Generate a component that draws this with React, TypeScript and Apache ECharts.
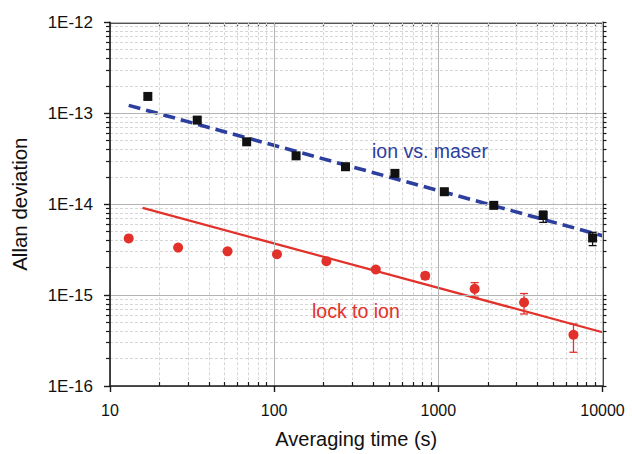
import React, { useEffect, useRef } from "react";
import * as echarts from "echarts";

// ---- data ----
const maserTau = [17, 34, 68, 136, 272, 544, 1088, 2176, 4352, 8704];
const maserSigma = [1.53e-13, 8.4e-14, 4.85e-14, 3.4e-14, 2.58e-14, 2.18e-14, 1.37e-14, 9.7e-15, 7.5e-15, 4.25e-15];
// error bars: [tau, low, high]
const maserErr = [
  [2176, 9.2e-15, 1.02e-14],
  [4352, 6.3e-15, 8.4e-15],
  [8704, 3.5e-15, 4.9e-15],
];

const ionTau = [13, 26, 52, 104, 208, 416, 832, 1664, 3328, 6656];
const ionSigma = [4.2e-15, 3.33e-15, 3.03e-15, 2.81e-15, 2.36e-15, 1.91e-15, 1.63e-15, 1.17e-15, 8.3e-16, 3.66e-16];
const ionErr = [
  [832, 1.5e-15, 1.77e-15],
  [1664, 9.5e-16, 1.37e-15],
  [3328, 6.2e-16, 1.04e-15],
  [6656, 2.35e-16, 4.8e-16],
];

// fit lines: [tau, sigma] endpoints
const maserFit = [
  [13, 1.22e-13],
  [10000, 4.5e-15],
];
const ionFit = [
  [15.8, 9.1e-15],
  [10000, 3.9e-16],
];

const xDecades = [1, 2, 3, 4]; // log10 of 10, 100, 1000, 10000
const yDecades = [-16, -15, -14, -13, -12];
const minorMultipliers = [2, 3, 4, 5, 6, 7, 8, 9];

const xTitle = "Averaging time (s)";
const yTitle = "Allan deviation";
const maserLabel = "ion vs. maser";
const ionLabel = "lock to ion";

const BLUE = "#2c3f9f";
const RED = "#e2312a";
const FONT = "'Liberation Sans', Arial, Helvetica, sans-serif";

const lg = (v: number) => Math.log10(v);

function minorTicks(decades: number[]) {
  const out: number[] = [];
  for (let i = 0; i < decades.length - 1; i++) {
    for (const m of minorMultipliers) out.push(decades[i] + Math.log10(m));
  }
  return out;
}

export default function App() {
  const ref = useRef<HTMLDivElement>(null);

  useEffect(() => {
    if (!ref.current) return;
    const chart = echarts.init(ref.current, null, { renderer: "svg" });

    const xMinor = minorTicks(xDecades);
    const yMinor = minorTicks(yDecades);
    const axisColor = "#1a1a1a";

    const errRender = (color: string) => (params: any, api: any) => {
      const x = api.value(0);
      const lo = api.coord([x, api.value(1)]);
      const hi = api.coord([x, api.value(2)]);
      const w = 4;
      const style = { stroke: color, lineWidth: 1.3 };
      return {
        type: "group",
        children: [
          { type: "line", shape: { x1: lo[0], y1: lo[1], x2: hi[0], y2: hi[1] }, style },
          { type: "line", shape: { x1: lo[0] - w, y1: lo[1], x2: lo[0] + w, y2: lo[1] }, style },
          { type: "line", shape: { x1: hi[0] - w, y1: hi[1], x2: hi[0] + w, y2: hi[1] }, style },
        ],
      };
    };

    const xBase = { type: "value", min: 1, max: 4, interval: 1, gridIndex: 0 };
    const yBase = { type: "value", min: -16, max: -12, interval: 1, gridIndex: 0 };

    const option: any = {
      animation: false,
      backgroundColor: "#ffffff",
      grid: { left: 110, right: 29.5, top: 22.3, bottom: 65.7, containLabel: false },
      xAxis: [
        {
          ...xBase,
          position: "bottom",
          name: xTitle,
          nameLocation: "middle",
          nameGap: 43,
          nameTextStyle: { fontFamily: FONT, fontSize: 20, color: "#111" },
          axisLine: { show: true, lineStyle: { color: axisColor, width: 1.6 } },
          axisTick: { show: true, inside: false, length: 6, lineStyle: { color: axisColor, width: 1.4 } },
          axisLabel: {
            fontFamily: FONT,
            fontSize: 16,
            color: "#111",
            margin: 16,
            formatter: (v: number) => String(Math.round(Math.pow(10, v))),
          },
          splitLine: { show: true, lineStyle: { color: "#b4b4b4", width: 1 } },
          z: 5,
        },
        {
          ...xBase,
          position: "bottom",
          axisLine: { show: false },
          axisLabel: { show: false },
          axisTick: { show: true, inside: true, length: 4, customValues: xMinor, lineStyle: { color: axisColor, width: 1.2 } },
          splitLine: { show: true, lineStyle: { color: "#d6d6d6", width: 1, type: [3, 2] } },
          z: 1,
        },
        {
          ...xBase,
          position: "top",
          axisLine: { show: true, lineStyle: { color: axisColor, width: 1.6 } },
          axisLabel: { show: false },
          axisTick: { show: true, inside: true, length: 4, customValues: [...xDecades, ...xMinor], lineStyle: { color: axisColor, width: 1.2 } },
          splitLine: { show: false },
        },
      ],
      yAxis: [
        {
          ...yBase,
          position: "left",
          name: yTitle,
          nameLocation: "middle",
          nameGap: 80,
          nameRotate: 90,
          nameTextStyle: { fontFamily: FONT, fontSize: 20.5, color: "#111" },
          axisLine: { show: true, lineStyle: { color: axisColor, width: 1.6 } },
          axisTick: { show: true, inside: false, length: 6, lineStyle: { color: axisColor, width: 1.4 } },
          axisLabel: {
            fontFamily: FONT,
            fontSize: 17,
            color: "#111",
            margin: 17,
            formatter: (v: number) => "1E" + Math.round(v),
          },
          splitLine: { show: true, lineStyle: { color: "#b4b4b4", width: 1 } },
          z: 5,
        },
        {
          ...yBase,
          position: "left",
          axisLine: { show: false },
          axisLabel: { show: false },
          axisTick: { show: true, inside: false, length: 4, customValues: yMinor, lineStyle: { color: axisColor, width: 1.2 } },
          splitLine: { show: true, lineStyle: { color: "#d6d6d6", width: 1, type: [3, 2] } },
          z: 1,
        },
        {
          ...yBase,
          position: "right",
          axisLine: { show: true, lineStyle: { color: axisColor, width: 1.6 } },
          axisLabel: { show: false },
          axisTick: { show: true, inside: false, length: 4, customValues: [...yDecades, ...yMinor], lineStyle: { color: axisColor, width: 1.2 } },
          splitLine: { show: false },
        },
      ],
      series: [
        {
          type: "line",
          name: "maser fit",
          xAxisIndex: 0,
          yAxisIndex: 0,
          data: maserFit.map((p) => [lg(p[0]), lg(p[1])]),
          showSymbol: false,
          symbol: "none",
          lineStyle: { color: BLUE, width: 3.6, type: [12, 6], opacity: 1 },
          z: 3,
          silent: true,
        },
        {
          type: "line",
          name: "ion fit",
          xAxisIndex: 0,
          yAxisIndex: 0,
          data: ionFit.map((p) => [lg(p[0]), lg(p[1])]),
          showSymbol: false,
          symbol: "none",
          lineStyle: { color: RED, width: 2.2, opacity: 1 },
          z: 3,
          silent: true,
        },
        {
          type: "custom",
          name: "maser err",
          xAxisIndex: 0,
          yAxisIndex: 0,
          data: maserErr.map((e) => [lg(e[0]), lg(e[1]), lg(e[2])]),
          encode: { x: 0, y: [1, 2] },
          renderItem: errRender("#111111"),
          z: 4,
          silent: true,
        },
        {
          type: "custom",
          name: "ion err",
          xAxisIndex: 0,
          yAxisIndex: 0,
          data: ionErr.map((e) => [lg(e[0]), lg(e[1]), lg(e[2])]),
          encode: { x: 0, y: [1, 2] },
          renderItem: errRender(RED),
          z: 4,
          silent: true,
        },
        {
          type: "scatter",
          name: "ion vs. maser",
          xAxisIndex: 0,
          yAxisIndex: 0,
          data: maserTau.map((t, i) => [lg(t), lg(maserSigma[i])]),
          symbol: "rect",
          symbolSize: 9,
          itemStyle: { color: "#111111", opacity: 1 },
          z: 5,
          silent: true,
        },
        {
          type: "scatter",
          name: "lock to ion",
          xAxisIndex: 0,
          yAxisIndex: 0,
          data: ionTau.map((t, i) => [lg(t), lg(ionSigma[i])]),
          symbol: "circle",
          symbolSize: 10,
          itemStyle: { color: RED, opacity: 1 },
          z: 5,
          silent: true,
        },
      ],
      graphic: [
        {
          type: "text",
          x: 372,
          y: 151,
          style: { text: maserLabel, fill: BLUE, font: `19.5px ${FONT}`, verticalAlign: "middle", align: "left" },
          z: 10,
        },
        {
          type: "text",
          x: 312,
          y: 311,
          style: { text: ionLabel, fill: RED, font: `19.5px ${FONT}`, verticalAlign: "middle", align: "left" },
          z: 10,
        },
      ],
    };

    chart.setOption(option);
    return () => chart.dispose();
  }, []);

  return (
    <div
      ref={ref}
      style={{ position: "fixed", left: 0, top: 0, width: 632, height: 454, background: "#fff" }}
    />
  );
}
